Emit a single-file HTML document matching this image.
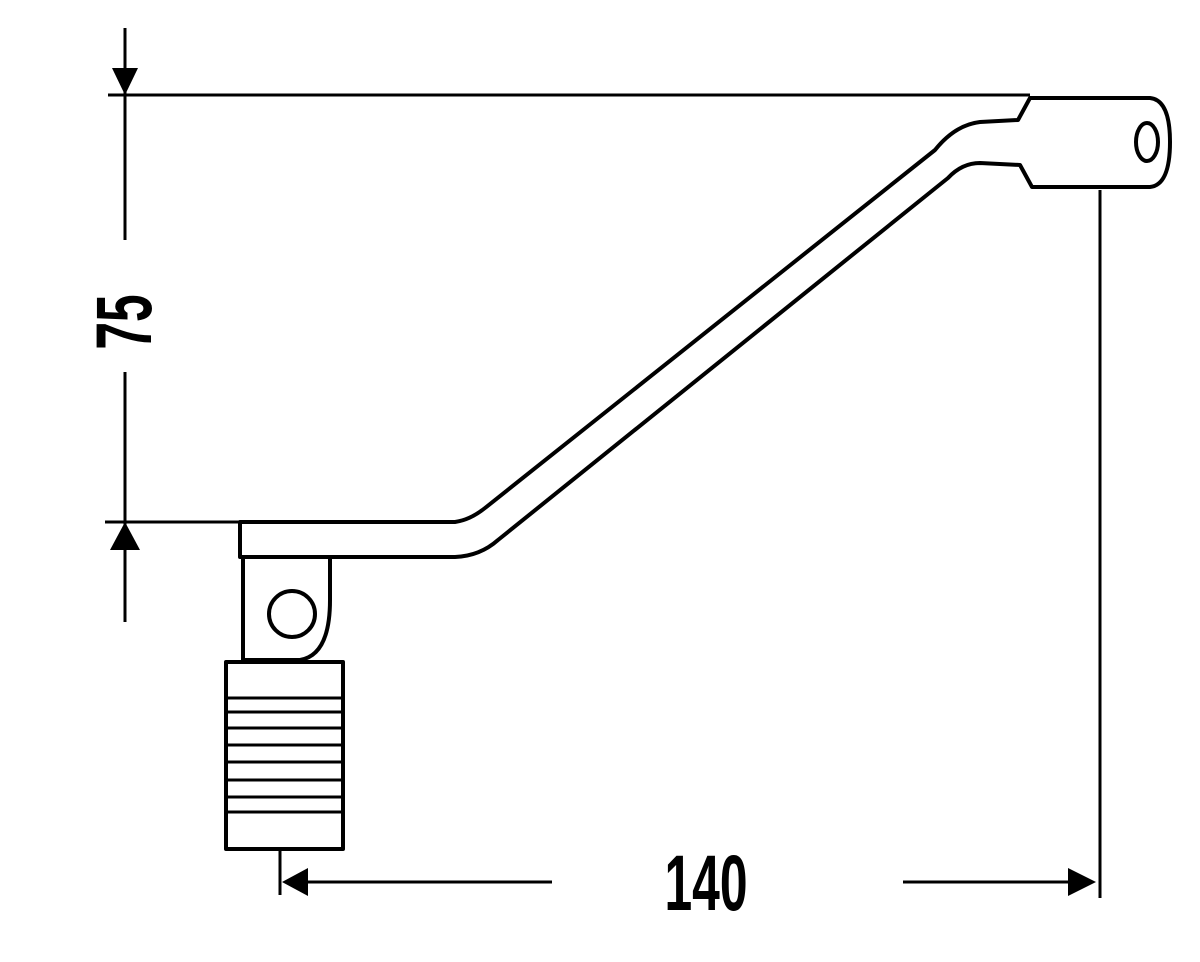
<!DOCTYPE html>
<html><head><meta charset="utf-8"><style>
html,body{margin:0;padding:0;background:#fff;}
svg{display:block;}
text{font-family:"Liberation Sans",sans-serif;font-weight:bold;fill:#000;}
</style></head><body>
<svg width="1200" height="962" viewBox="0 0 1200 962" xmlns="http://www.w3.org/2000/svg">
<g stroke="#000" fill="none" stroke-width="3">
<!-- left dimension -->
<line x1="125" y1="28" x2="125" y2="240"/>
<line x1="125" y1="372" x2="125" y2="622"/>
<line x1="108" y1="95" x2="1030" y2="95"/>
<line x1="105" y1="522" x2="240" y2="522"/>
<!-- bottom dimension -->
<line x1="280" y1="850" x2="280" y2="895"/>
<line x1="295" y1="882" x2="552" y2="882"/>
<line x1="903" y1="882" x2="1080" y2="882"/>
<line x1="1100" y1="190" x2="1100" y2="898"/>
</g>
<g fill="#000">
<polygon points="125,95 112,68 138,68"/>
<polygon points="125,522 110,550 140,550"/>
<polygon points="282,882 308,868 308,896"/>
<polygon points="1096,882 1068,868 1068,896"/>
</g>
<g stroke="#000" fill="#fff" stroke-width="4" stroke-linejoin="round">
<!-- lever -->
<path d="M240,522 L455,522 Q470,520 485,508 L935,150 Q955,125 980,122 L1018,120 L1030,98 L1150,98 Q1170,100 1170,142 Q1170,185 1150,187 L1032,187 L1020,165 L980,163 Q962,163 948,178 L498,540 Q480,556 455,557 L240,557 Z"/>
<!-- pivot -->
<path d="M243,557 L330,557 L330,600 Q330,655 300,660 L243,660 Z"/>
<circle cx="292" cy="614" r="23"/>
<!-- pedal -->
<rect x="226" y="662" width="117" height="187"/>
</g>
<ellipse cx="1147" cy="142" rx="11" ry="19" fill="#fff" stroke="#000" stroke-width="4"/>
<g stroke="#000" stroke-width="3">
<line x1="228" y1="698" x2="341" y2="698"/>
<line x1="228" y1="712" x2="341" y2="712"/>
<line x1="228" y1="728" x2="341" y2="728"/>
<line x1="228" y1="745" x2="341" y2="745"/>
<line x1="228" y1="762" x2="341" y2="762"/>
<line x1="228" y1="780" x2="341" y2="780"/>
<line x1="228" y1="797" x2="341" y2="797"/>
<line x1="228" y1="812" x2="341" y2="812"/>
</g>
<text x="0" y="0" font-size="79" transform="translate(706,910) scale(0.63,1)" text-anchor="middle">140</text>
<text x="0" y="0" font-size="79" transform="translate(151,322) rotate(-90) scale(0.63,1)" text-anchor="middle">75</text>
</svg>
</body></html>
